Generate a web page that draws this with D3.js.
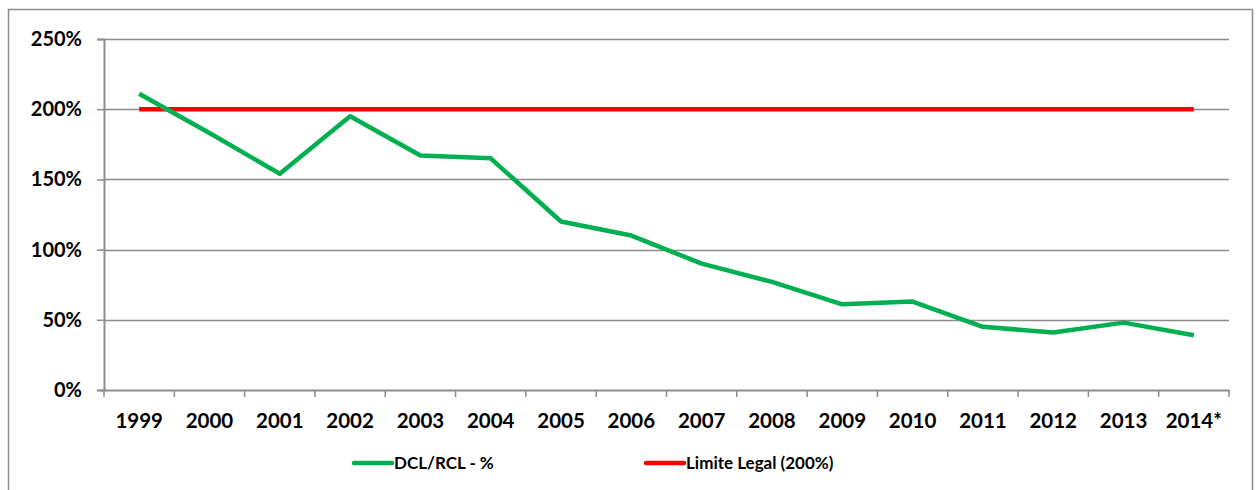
<!DOCTYPE html>
<html>
<head>
<meta charset="utf-8">
<script src="https://cdn.jsdelivr.net/npm/d3@7"></script>
<style>
	body { margin: 0; background: #fff; }
	svg text { font-family: Lato, "Open Sans", sans-serif; font-weight: bold; fill: #000; }
</style>
</head>
<body>
<svg id="chart" width="1260" height="490"></svg>
<script>
// categories + series
var years = ['1999','2000','2001','2002','2003','2004','2005','2006','2007','2008','2009','2010','2011','2012','2013','2014*'];
var dclRcl = [211, 183, 154, 195, 167, 165, 120, 110, 90, 77, 61, 63, 45, 41, 48, 39];
var limite = [200, 200, 200, 200, 200, 200, 200, 200, 200, 200, 200, 200, 200, 200, 200, 200];
var yTicks = [0, 50, 100, 150, 200, 250];

var seriesNames = ['DCL/RCL - %', 'Limite Legal (200%)'];
var seriesColors = ['#00b050', '#ff0000'];

var svg = d3.select('#chart');
var margin = {top: 39, left: 104, right: 31, bottom: 100};
var w = 1260 - margin.left - margin.right,
	h = 490 - margin.top - margin.bottom;

// outer frame
svg.append('rect')
	.attr('x', 8.5).attr('y', 9.5)
	.attr('width', 1244).attr('height', 490)
	.attr('fill', 'none').attr('stroke', '#8c8c8c').attr('stroke-width', 1.5);

var g = svg.append('g').attr('transform', 'translate(' + margin.left + ',' + margin.top + ')');

var x = d3.scaleBand().domain(years).range([0, w]);
var y = d3.scaleLinear().domain([0, 250]).range([h, 0]);

// gridlines
g.append('g').selectAll('line')
	.data(yTicks.slice(1))
	.enter().append('line')
	.attr('x1', 0).attr('x2', w)
	.attr('y1', function(d) { return Math.round(y(d)) + 0.5; })
	.attr('y2', function(d) { return Math.round(y(d)) + 0.5; })
	.attr('stroke', '#8c8c8c').attr('stroke-width', 1.3);

// y axis
var yAxis = g.append('g')
	.call(d3.axisLeft(y).tickValues(yTicks).tickSize(7).tickPadding(15)
		.tickFormat(function(d) { return d + '%'; }));
yAxis.selectAll('text').style('font-size', '20px');

// x axis, ticks between categories
var xAxis = g.append('g').attr('transform', 'translate(0,' + h + ')')
	.call(d3.axisBottom(x).tickSize(0).tickPadding(23));
xAxis.selectAll('text').style('font-size', '20.5px');
xAxis.selectAll('.tick line').remove();
xAxis.append('g').selectAll('line')
	.data(years.concat(['end']))
	.enter().append('line')
	.attr('x1', function(d, i) { return i * x.bandwidth(); })
	.attr('x2', function(d, i) { return i * x.bandwidth(); })
	.attr('y1', 0).attr('y2', 7)
	.attr('stroke', '#8c8c8c').attr('stroke-width', 1.5);

svg.selectAll('.domain').attr('stroke', '#8c8c8c').attr('stroke-width', 2);
svg.selectAll('.tick line').attr('stroke', '#8c8c8c').attr('stroke-width', 1.5);

var line = d3.line()
	.x(function(d, i) { return x(years[i]) + x.bandwidth() / 2; })
	.y(function(d) { return y(d); });

// red limit first, green on top
[limite, dclRcl].forEach(function(vals) {
	var idx = vals === dclRcl ? 0 : 1;
	g.append('path')
		.datum(vals)
		.attr('d', line)
		.attr('fill', 'none')
		.attr('stroke', seriesColors[idx])
		.attr('stroke-width', 4.5)
		.attr('stroke-linejoin', 'round');
});

// legend
var legendX = [354, 646];
var leg = svg.append('g').attr('transform', 'translate(0,463)');
seriesNames.forEach(function(name, i) {
	leg.append('line')
		.attr('x1', legendX[i]).attr('x2', legendX[i] + 38)
		.attr('y1', 0).attr('y2', 0)
		.attr('stroke', seriesColors[i]).attr('stroke-width', 4.5)
		.attr('stroke-linecap', 'round');
	leg.append('text')
		.attr('x', legendX[i] + 40).attr('y', 0)
		.attr('dy', '0.35em')
		.style('font-size', '17px')
		.text(name);
});
</script>
</body>
</html>
